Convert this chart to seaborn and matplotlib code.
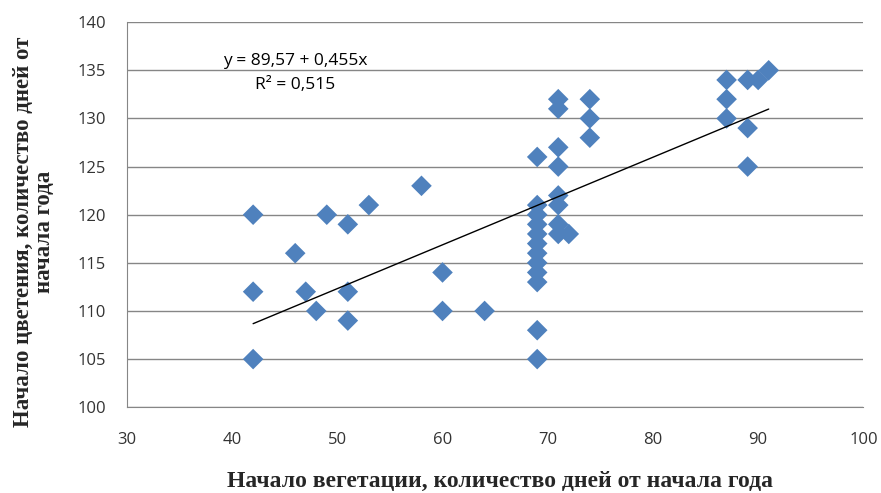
import numpy as np
import pandas as pd
import seaborn as sns
import matplotlib.pyplot as plt

# days from start of year: start of vegetation (x) vs start of flowering (y)
veg_days = [42, 42, 42, 46, 47, 48, 49, 51, 51, 51, 53, 58, 60, 60, 64,
            69, 69, 69, 69, 69, 69, 69, 69, 69, 69, 69, 69,
            71, 71, 71, 71, 71, 71, 71, 71, 72,
            74, 74, 74, 87, 87, 87, 89, 89, 89, 90, 91]
flower_days = [120, 112, 105, 116, 112, 110, 120, 119, 112, 109, 121, 123, 114, 110, 110,
               126, 121, 120, 119, 118, 117, 116, 115, 114, 113, 108, 105,
               132, 131, 127, 125, 122, 121, 119, 118, 118,
               132, 130, 128, 134, 132, 130, 134, 129, 125, 134, 135]

# trend line as printed on the chart
intercept = 89.57
slope = 0.455
eq_text = "y = 89,57 + 0,455x\nR² = 0,515"

x_label = "Начало вегетации, количество дней от начала года"
y_label = "Начало цветения, количество дней от\nначала года"

df = pd.DataFrame({"veg": veg_days, "flower": flower_days})

sns.set_style("white")
plt.rcParams["font.family"] = ["Open Sans", "DejaVu Sans"]

fig, ax = plt.subplots(figsize=(8.81, 4.93), dpi=100)
fig.subplots_adjust(left=0.144, right=0.98, top=0.955, bottom=0.174)

grey = "#868686"
ax.set_xlim(30, 100)
ax.set_ylim(100, 140)
ax.set_xticks(range(30, 101, 10))
ax.set_yticks(range(100, 141, 5))
ax.yaxis.grid(True, color=grey, linewidth=1)
ax.xaxis.grid(False)
ax.set_axisbelow(True)

sns.scatterplot(data=df, x="veg", y="flower", marker="D", s=110,
                color="#4F81BD", edgecolor="none", ax=ax, zorder=3)

line_x = np.array([df["veg"].min(), df["veg"].max()])
sns.lineplot(x=line_x, y=intercept + slope * line_x, color="black",
             linewidth=1, ax=ax, zorder=4)

ax.text(46.0, 134.7, eq_text, ha="center", va="center", fontsize=12.5,
        linespacing=1.65, color="black")

for side in ["top", "right"]:
    ax.spines[side].set_visible(False)
for side in ["left", "bottom"]:
    ax.spines[side].set_color(grey)
ax.tick_params(axis="both", which="major", direction="out", length=7,
               color=grey, labelsize=12, labelcolor="#333333")
ax.tick_params(axis="x", pad=11)
ax.tick_params(axis="y", pad=8)

ax.set_xlabel(x_label, fontsize=17, fontweight="bold",
              fontfamily="Liberation Serif")
ax.set_ylabel(y_label, fontsize=16.5, fontweight="bold",
              fontfamily="Liberation Serif", linespacing=1.0)
ax.xaxis.set_label_coords(0.507, -0.165)
ax.yaxis.set_label_coords(-0.098, 0.455)

fig.savefig("out.png", dpi=100)
